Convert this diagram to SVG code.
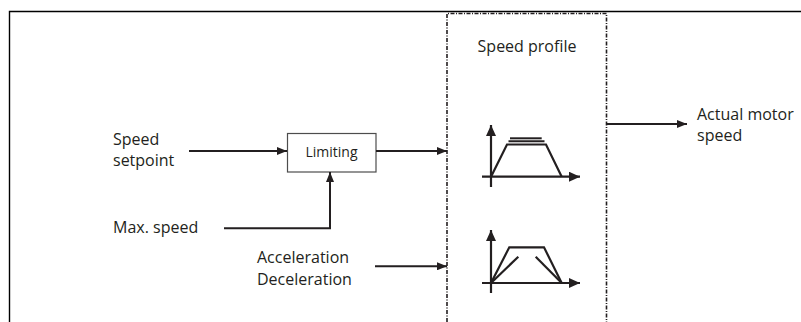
<svg xmlns="http://www.w3.org/2000/svg" width="801" height="322" viewBox="0 0 801 322">
  <style>
    .lbl { font-family: "Open Sans", "Noto Sans", "Liberation Sans", sans-serif; font-size: 16px; fill: #231f20; }
    .small { font-size: 14px; }
    .wire { fill: none; stroke: #231f20; stroke-width: 2; }
    .axis { fill: none; stroke: #231f20; stroke-width: 2.2; }
    .curve { fill: none; stroke: #231f20; stroke-width: 2.2; stroke-linejoin: miter; }
    .frame { fill: none; stroke: #000; stroke-width: 1.4; }
    .zone { fill: none; stroke: #231f20; stroke-width: 1.6; stroke-dasharray: 4 1.5 1 1.5; }
  </style>
  <defs>
    <marker id="arrow" viewBox="0 0 10 8" refX="10" refY="4" markerWidth="10" markerHeight="8" markerUnits="userSpaceOnUse" orient="auto">
      <path d="M0,0 L10,4 L0,8 Z" fill="#231f20"/>
    </marker>
    <marker id="axisArrow" viewBox="0 0 11 10" refX="11" refY="5" markerWidth="11" markerHeight="10" markerUnits="userSpaceOnUse" orient="auto">
      <path d="M0,0 L11,5 L0,10 Z" fill="#231f20"/>
    </marker>
  </defs>

  <!-- outer frame (top and left edges) -->
  <path class="frame" d="M9.5,322 V11.5 H801"/>

  <!-- speed profile zone -->
  <g id="speed-profile">
    <path class="zone" d="M447,322 V13.5 H606.5 V322"/>
    <text class="lbl" x="527" y="52" text-anchor="middle">Speed profile</text>
  </g>

  <!-- inputs -->
  <g id="speed-setpoint">
    <text class="lbl" x="113" y="145">Speed</text>
    <text class="lbl" x="113" y="166">setpoint</text>
  </g>
  <g id="max-speed">
    <text class="lbl" x="113" y="233">Max. speed</text>
  </g>
  <g id="accel-decel">
    <text class="lbl" x="257" y="263">Acceleration</text>
    <text class="lbl" x="257" y="285">Deceleration</text>
  </g>

  <!-- limiting block -->
  <g id="limiting">
    <rect x="287.5" y="133.5" width="88.5" height="38.5" fill="#fff" stroke="#4d4d4d" stroke-width="1.2"/>
    <text class="lbl small" x="331.5" y="157" text-anchor="middle">Limiting</text>
  </g>

  <!-- output -->
  <g id="actual-motor-speed">
    <text class="lbl" x="697" y="120">Actual motor</text>
    <text class="lbl" x="697" y="141">speed</text>
  </g>

  <!-- ramp with several setpoint levels -->
  <g id="profile-setpoint">
    <path class="axis" d="M491,187 V125" marker-end="url(#axisArrow)"/>
    <path class="axis" d="M482,176.7 H580" marker-end="url(#axisArrow)"/>
    <path class="curve" d="M491,176.7 L507,144.5 H546 L561.7,176.7"/>
    <path class="wire" stroke-width="1.6" d="M508.5,141.2 H544.5"/>
    <path class="wire" stroke-width="1.6" d="M510,138.3 H541.7"/>
  </g>

  <!-- ramp with several acceleration / deceleration slopes -->
  <g id="profile-ramps">
    <path class="axis" d="M491,293 V230" marker-end="url(#axisArrow)"/>
    <path class="axis" d="M482,283 H580" marker-end="url(#axisArrow)"/>
    <path class="curve" d="M491,283 L509.3,247.3 H544 L561.7,283"/>
    <path class="curve" d="M491,283 L518.3,256.7"/>
    <path class="curve" d="M535.7,256.7 L561.7,283"/>
  </g>

  <!-- connectors -->
  <g id="connectors">
    <path class="wire" d="M189,151 H287" marker-end="url(#arrow)"/>
    <path class="wire" d="M376,151 H447" marker-end="url(#arrow)"/>
    <path class="wire" d="M224,228.3 H330 V172" marker-end="url(#arrow)"/>
    <path class="wire" d="M375,266.3 H447" marker-end="url(#arrow)"/>
    <path class="wire" d="M607,124 H687" marker-end="url(#arrow)"/>
  </g>
</svg>
